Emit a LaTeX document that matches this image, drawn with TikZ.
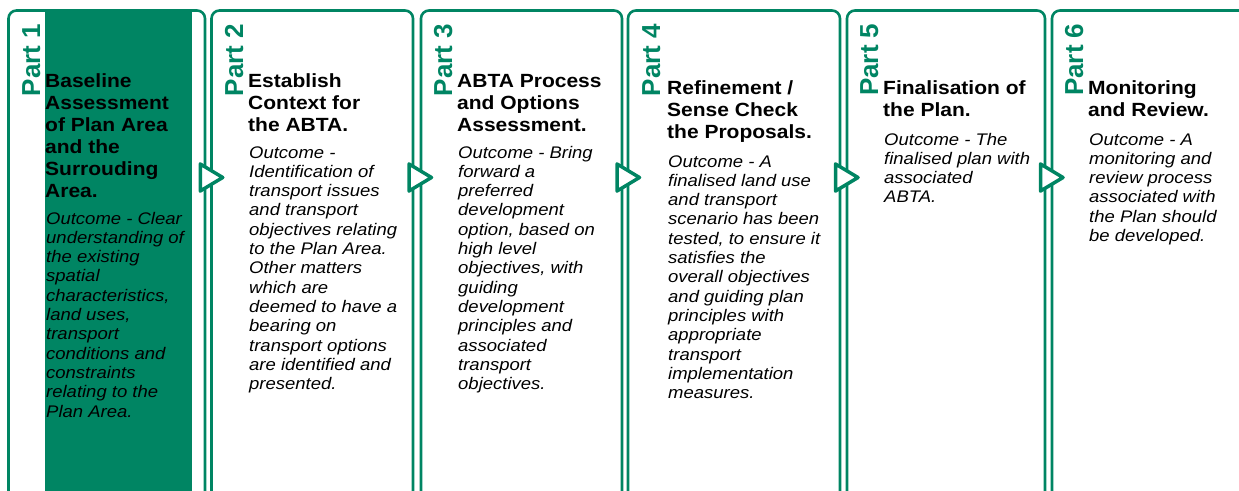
\documentclass[tikz,border=0pt]{standalone}
\usepackage{fontspec}
\setmainfont{Liberation Sans}[FakeStretch=1.1]
\newfontfamily\partfont{Liberation Sans}
\definecolor{abtagreen}{RGB}{0,133,99}

\begin{document}
\begin{tikzpicture}[x=1pt,y=-1pt,
          panel/.style={draw=abtagreen,line width=2.6pt,rounded corners=8pt},
          nexttri/.style={draw=abtagreen,fill=white,line width=3.5pt,line join=round},
          partlabel/.style={rotate=90,anchor=base west,inner sep=0pt,text=abtagreen,
            font=\partfont\fontsize{26}{30}\selectfont\bfseries},
          stagetitle/.style={anchor=base west,inner sep=0pt,align=left,
            font=\fontsize{19.1}{22}\selectfont\bfseries},
          outcome/.style={anchor=base west,inner sep=0pt,align=left,
            font=\fontsize{16.8}{19.3}\selectfont\itshape}
        ]
        \useasboundingbox (0,0) rectangle (1239,490);
        % shaded first stage
        \fill[abtagreen] (45,11.5) rectangle (192,495);
        \foreach \xl/\xr in {8.5/205,211.5/413,421/622,628/840,847/1045,1052/1262}
          \draw[panel] (\xl,495) |- (\xr,10.5) -- (\xr,495);
        \foreach \c in {208.25,417,625,843.5,1048.5}
          \draw[nexttri] (\c-8,164) -- (\c-8,191) -- (\c+14.5,177.5) -- cycle;

        % multi-line nodes sit on the baseline of their last line
        \node[partlabel] (part1) at (40,96.5) {Part 1};
        \node[stagetitle] (title1) at (45,197) {Baseline\\Assessment\\of Plan Area\\and the\\Surrouding\\Area.};
        \node[outcome] (outcome1) at (46,417) {Outcome - Clear\\understanding of\\the existing\\spatial\\characteristics,\\land uses,\\transport\\conditions and\\constraints\\relating to the\\Plan Area.};

        \node[partlabel] (part2) at (243,96.5) {Part 2};
        \node[stagetitle] (title2) at (248,131) {Establish\\Context for\\the ABTA.};
        \node[outcome] (outcome2) at (249,389.6) {Outcome -\\Identification of\\transport issues\\and transport\\objectives relating\\to the Plan Area.\\Other matters\\which are\\deemed to have a\\bearing on\\transport options\\are identified and\\presented.};

        \node[partlabel] (part3) at (452,96.5) {Part 3};
        \node[stagetitle] (title3) at (457,131) {ABTA Process\\and Options\\Assessment.};
        \node[outcome] (outcome3) at (458,389.6) {Outcome - Bring\\forward a\\preferred\\development\\option, based on\\high level\\objectives, with\\guiding\\development\\principles and\\associated\\transport\\objectives.};

        \node[partlabel] (part4) at (660,96.5) {Part 4};
        \node[stagetitle] (title4) at (667,138) {Refinement /\\Sense Check\\the Proposals.};
        \node[outcome] (outcome4) at (668,398.6) {Outcome - A\\finalised land use\\and transport\\scenario has been\\tested, to ensure it\\satisfies the\\overall objectives\\and guiding plan\\principles with\\appropriate\\transport\\implementation\\measures.};

        \node[partlabel] (part5) at (878,96) {Part 5};
        \node[stagetitle] (title5) at (883,116) {Finalisation of\\the Plan.};
        \node[outcome] (outcome5) at (884,202.9) {Outcome - The\\finalised plan with\\associated\\ABTA.};

        \node[partlabel] (part6) at (1083,96) {Part 6};
        \node[stagetitle] (title6) at (1088,116) {Monitoring\\and Review.};
        \node[outcome] (outcome6) at (1089,241.5) {Outcome - A\\monitoring and\\review process\\associated with\\the Plan should\\be developed.};
        \end{tikzpicture}
\end{document}
